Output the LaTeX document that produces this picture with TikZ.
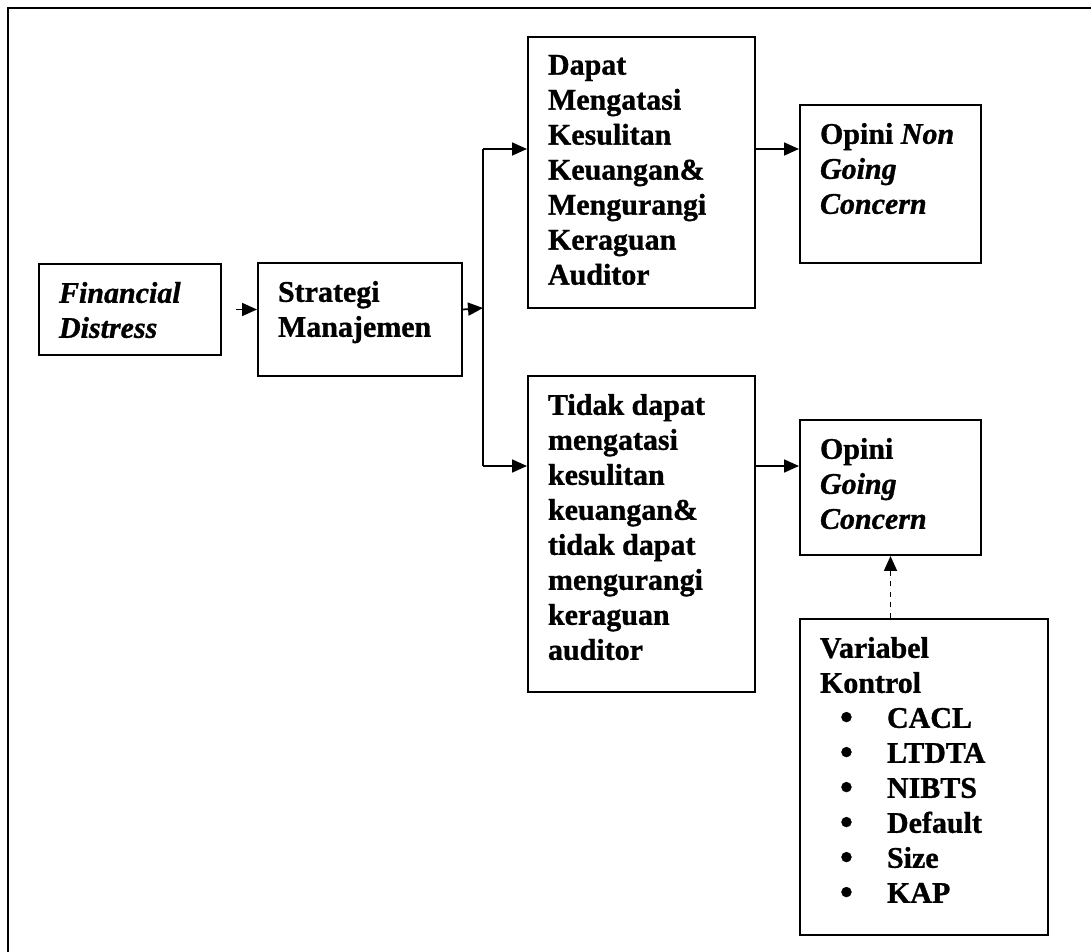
\documentclass[tikz,border=0pt]{standalone}
\usepackage{fontspec}
\setmainfont{Liberation Serif}[BoldFeatures={FakeBold=1}, BoldItalicFeatures={FakeBold=1}]
\usepackage{tikz}
\usetikzlibrary{positioning,arrows.meta}
\newdimen\pxu \pxu=0.02cm
\tikzset{
    box/.style={draw, line width=0.04cm, anchor=north west, inner xsep=0.4cm, inner ysep=0.36cm, font=\fontsize{17.07}{19.92}\selectfont\bfseries}, % kotak dengan teks rata atas
    link/.style={draw, line width=0.035cm, -{Triangle[length=0.3cm,width=0.26cm]}} % panah
}
\newcommand{\isi}[3]{\parbox[c][#2\pxu][t]{#1\pxu}{\raggedright #3}}
\newcommand{\butir}[1]{\hspace*{0.4cm}\makebox[0.94cm][l]{\smash{\raisebox{-0.05em}{\fontsize{21}{0}\selectfont\textbullet}}}#1}

\begin{document}
\begin{tikzpicture}[x=0.02cm, y=-0.02cm]
	\useasboundingbox (0,0) rectangle (1091,952);
	\draw[line width=0.045cm] (1091,8) -- (8,8) -- (8,952);

	\node (fin) [box] at (38,263) {\isi{142}{55}{\textit{Financial}\\\textit{Distress}}};
	\node (strat) [box] at (257,262) {\isi{164}{77}{Strategi\\Manajemen}};
	\node (dapat) [box] at (527,36) {\isi{187}{235}{Dapat\\Mengatasi\\Kesulitan\\Keuangan\&\\Mengurangi\\Keraguan\\Auditor}};
	\node (tidak) [box] at (527,375) {\isi{187}{280}{Tidak dapat\\mengatasi\\kesulitan\\keuangan\&\\tidak dapat\\mengurangi\\keraguan\\auditor}};
	\node (opnon) [box] at (799,104) {\isi{141}{122}{Opini \textit{Non}\\\textit{Going}\\\textit{Concern}}};
	\node (opgo) [box] at (799,419) {\isi{141}{99}{Opini\\\textit{Going}\\\textit{Concern}}};
	\node (var) [box] at (799,618) {\isi{208}{280}{Variabel\\Kontrol\\\butir{CACL}\\\butir{LTDTA}\\\butir{NIBTS}\\\butir{Default}\\\butir{Size}\\\butir{KAP}}};

	\coordinate (split) at (483,308);
	\coordinate (atas) at (483,149);
	\coordinate (bawah) at (483,466);

	\draw[link, shorten <=0.28cm] (fin.east) -- (fin.east -| strat.west);
	\draw[link] (fin.east -| strat.east) -- (split);
	\draw[line width=0.035cm] (atas) -- (bawah);
	\draw[link] (atas) -- (atas -| dapat.west);
	\draw[link] (bawah) -- (bawah -| tidak.west);
	\draw[link] (atas -| dapat.east) -- (atas -| opnon.west);
	\draw[link] (bawah -| tidak.east) -- (bawah -| opgo.west);
	\draw[link, dashed] (var.north -| opgo.south) -- (opgo.south);
\end{tikzpicture}
\end{document}
